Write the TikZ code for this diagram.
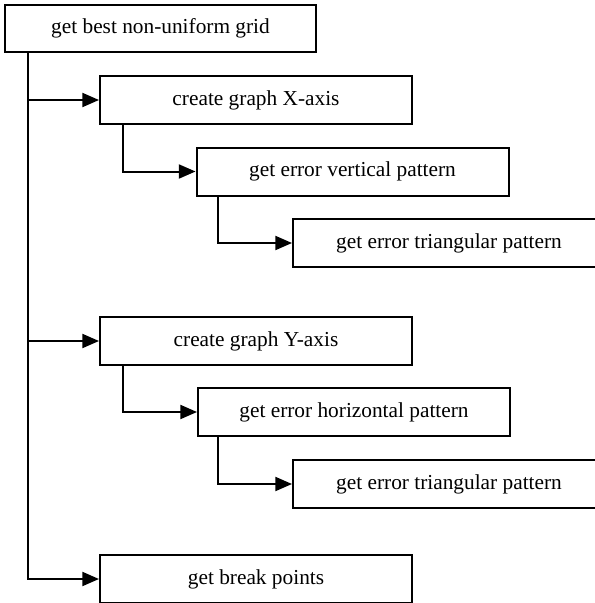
\documentclass[tikz,border=0pt]{standalone}
\usepackage{fontspec}
\setmainfont{Liberation Serif}
\usetikzlibrary{arrows.meta}
\begin{document}
\begin{tikzpicture}[x=0.75pt,y=-0.75pt,
  box/.style={draw,line width=1.5pt,rectangle,minimum width=234pt,minimum height=36pt,inner sep=0pt,font=\rmfamily\fontsize{16}{18}\selectfont},
  conn/.style={line width=1.5pt,-{Triangle[length=12.5pt,width=10.5pt]}}]
\useasboundingbox (0,0) rectangle (595,603);
\clip (0,0) rectangle (595,603);
\node[box,minimum width=233pt,minimum height=35pt] (b1) at (160.5,28.5) {get best non-uniform grid};
\node[box] (b2) at (256,100) {create graph X-axis};
\node[box] (b3) at (352.5,171.5) {get error vertical pattern};
\node[box] (b4) at (449,243) {get error triangular pattern};
\node[box] (b5) at (256,341) {create graph Y-axis};
\node[box] (b6) at (354,412) {get error horizontal pattern};
\node[box] (b7) at (449,484) {get error triangular pattern};
\node[box] (b8) at (256,579) {get break points};
\coordinate (t) at ([xshift=18pt]b1.south west);
\draw[conn] (t) |- (b2.west);
\draw[conn] (t) |- (b5.west);
\draw[conn] (t) |- (b8.west);
\draw[conn] ([xshift=18pt]b2.south west) |- (b3.west);
\draw[conn] ([xshift=17pt]b3.south west) |- (b4.west);
\draw[conn] ([xshift=18pt]b5.south west) |- (b6.west);
\draw[conn] ([xshift=16pt]b6.south west) |- (b7.west);
\end{tikzpicture}
\end{document}
